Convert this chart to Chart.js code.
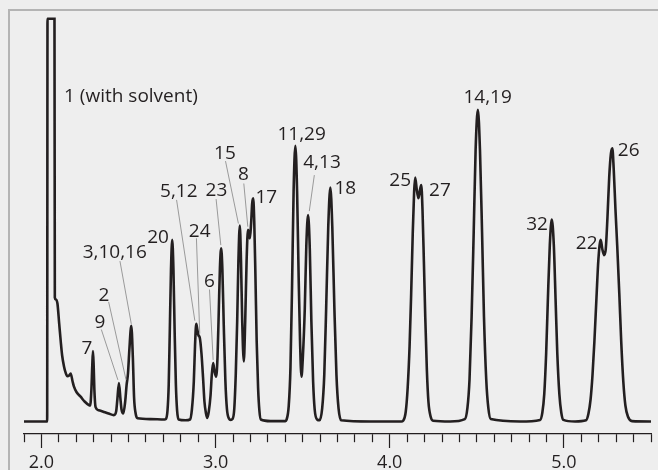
<!DOCTYPE html>
<html>
<head>
<meta charset="utf-8">
<title>Chromatogram</title>
<script src="https://cdn.jsdelivr.net/npm/chart.js@4.4.1/dist/chart.umd.min.js"></script>
<style>
  html, body { margin: 0; padding: 0; background: #eeeeee; }
  #wrap { width: 658px; height: 470px; }
</style>
</head>
<body>
<div id="wrap"><canvas id="chromChart" width="658" height="470"></canvas></div>
<script>
// Trace: retention time (min) and detector signal
const retentionTimes = [
    1.9, 2.033, 2.035, 2.075, 2.077, 2.082, 2.092, 2.102, 2.111, 2.119,
    2.130, 2.139, 2.149, 2.159, 2.168, 2.179, 2.187, 2.202, 2.225, 2.248,
    2.273, 2.280, 2.287, 2.292, 2.296, 2.300, 2.304, 2.311, 2.329, 2.359,
    2.386, 2.416, 2.429, 2.436, 2.445, 2.454, 2.460, 2.470, 2.481, 2.489,
    2.497, 2.505, 2.516, 2.525, 2.532, 2.541, 2.552, 2.627, 2.707, 2.714,
    2.724, 2.731, 2.737, 2.744, 2.751, 2.758, 2.765, 2.772, 2.779, 2.788,
    2.827, 2.853, 2.864, 2.875, 2.882, 2.889, 2.895, 2.902, 2.909, 2.919,
    2.928, 2.936, 2.945, 2.952, 2.961, 2.971, 2.978, 2.986, 2.994, 3.003,
    3.011, 3.018, 3.025, 3.032, 3.039, 3.047, 3.056, 3.065, 3.077, 3.087,
    3.097, 3.107, 3.116, 3.124, 3.131, 3.139, 3.146, 3.153, 3.162, 3.170,
    3.178, 3.186, 3.191, 3.197, 3.204, 3.210, 3.216, 3.222, 3.229, 3.236,
    3.244, 3.252, 3.260, 3.315, 3.401, 3.407, 3.420, 3.430, 3.439, 3.448,
    3.458, 3.468, 3.477, 3.485, 3.493, 3.501, 3.512, 3.521, 3.531, 3.541,
    3.550, 3.560, 3.569, 3.583, 3.597, 3.612, 3.624, 3.635, 3.647, 3.659,
    3.670, 3.682, 3.694, 3.706, 3.721, 3.888, 4.066, 4.077, 4.092, 4.103,
    4.114, 4.123, 4.132, 4.140, 4.146, 4.155, 4.165, 4.174, 4.181, 4.188,
    4.196, 4.204, 4.213, 4.222, 4.235, 4.249, 4.347, 4.431, 4.446, 4.458,
    4.470, 4.482, 4.493, 4.506, 4.518, 4.530, 4.541, 4.554, 4.566, 4.580,
    4.748, 4.863, 4.876, 4.887, 4.898, 4.908, 4.919, 4.930, 4.942, 4.952,
    4.962, 4.974, 4.985, 4.997, 5.064, 5.127, 5.141, 5.153, 5.164, 5.175,
    5.187, 5.198, 5.211, 5.221, 5.231, 5.240, 5.250, 5.260, 5.270, 5.278,
    5.286, 5.296, 5.306, 5.318, 5.329, 5.341, 5.353, 5.368, 5.391, 5.5
];
const detectorSignal = [
    0, 0, 100.7, 100.7, 31, 30.5, 29.5, 24.5, 20, 16.5,
    13.7, 12.2, 11.3, 11.5, 12, 10, 8.7, 7.3, 6.2, 5,
    4.1, 4.0, 8, 14, 17.6, 14, 8, 3.6, 2.8, 2.4,
    2.0, 1.6, 2.5, 5.5, 9.6, 5.5, 3, 2.0, 5, 9.1,
    12, 18, 23.9, 16, 6, 2, 0.8, 0.6, 0.5, 0.6,
    2.8, 9.3, 22.4, 38, 45.4, 38, 22.4, 9.3, 2.8, 0.5,
    0.3, 0.5, 3, 10, 19, 24.4, 23, 21.5, 21, 17,
    11, 5, 2, 0.9, 2.5, 6.5, 11.5, 14.6, 12.5, 11.2,
    16, 27, 38.5, 43.3, 38, 24, 10.5, 3.2, 0.7, 0.4,
    0.6, 3, 12, 25, 40, 49, 40, 25, 15, 25,
    40, 47.9, 47, 45.8, 49.5, 54.5, 55.8, 50, 36, 20,
    8.5, 2.5, 0.5, 0.1, 0.1, 0.4, 3.9, 13.6, 33.6, 57.5,
    68.9, 57.5, 36, 20, 11.2, 16, 28, 44, 51.6, 43,
    25, 10, 3, 0.5, 0.3, 3.3, 11.6, 28.5, 48.8, 58.5,
    48.8, 28.5, 11.6, 3.3, 0.3, 0, 0, 0.2, 2.5, 8.5,
    19, 32, 47, 57.5, 61, 58, 55.8, 58, 59.1, 53,
    40, 26, 13, 5, 1.2, 0.2, 0, 0.6, 3.4, 10.5,
    26.2, 47.3, 67.9, 77.9, 67.9, 47.3, 26.2, 10.5, 3.4, 0.6,
    0, 0.4, 2.2, 6.8, 17, 30.7, 44.1, 50.5, 44.1, 30.7,
    17, 6.8, 2.2, 0.4, 0, 0.3, 2, 5.5, 11.5, 20,
    31, 40.5, 45.4, 43, 41.6, 43, 51, 61, 67, 68.3,
    63, 53, 44, 32, 20, 10, 4, 1.2, 0.1, 0
];

// X axis: range, minor step and the labelled ticks
const axisMin = 1.9;
const axisMax = 5.5;
const tickStep = 0.1;
const majorTickLabels = ['2.0', '3.0', '4.0', '5.0'];

// Peak names
const peakNames = ['1 (with solvent)', '7', '9', '2', '3,10,16', '20', '5,12', '24', '6', '23',
    '15', '8', '17', '11,29', '4,13', '18', '25', '27', '14,19', '32', '22', '26'];

// Where each peak name sits (time, signal at text baseline) and its leader line if any
const labelPlacement = [
    { t: 2.130, v: 79.8, align: 'left' },
    { t: 2.261, v: 16.9 },
    { t: 2.336, v: 23.3, lead: [2.344, 23.0, 2.439, 10.4] },
    { t: 2.359, v: 30.1, lead: [2.386, 29.9, 2.486, 10.4] },
    { t: 2.421, v: 41.0, lead: [2.451, 40.1, 2.516, 24.4] },
    { t: 2.670, v: 44.7 },
    { t: 2.789, v: 56.2, lead: [2.776, 55.4, 2.881, 25.2] },
    { t: 2.909, v: 46.2, lead: [2.890, 45.8, 2.909, 22.0] },
    { t: 2.965, v: 33.7, lead: [2.965, 33.0, 2.986, 15.4] },
    { t: 3.005, v: 56.4, lead: [3.003, 55.6, 3.030, 44.1] },
    { t: 3.054, v: 65.6, lead: [3.057, 65.1, 3.131, 49.5] },
    { t: 3.160, v: 60.4, lead: [3.162, 59.5, 3.185, 48.7] },
    { t: 3.291, v: 54.7 },
    { t: 3.494, v: 70.4 },
    { t: 3.611, v: 63.5, lead: [3.567, 61.6, 3.538, 52.6] },
    { t: 3.745, v: 57.0 },
    { t: 4.060, v: 58.9 },
    { t: 4.288, v: 56.4 },
    { t: 4.562, v: 79.7 },
    { t: 4.846, v: 48.0 },
    { t: 5.131, v: 43.2 },
    { t: 5.372, v: 66.4 }
];

const inkColor = '#231f20';
const leaderColor = '#9a9a9a';
const fontFamily = "'Open Sans', sans-serif";

function isMajorTick(value) {
    return majorTickLabels.some(l => Math.abs(parseFloat(l) - value) < 1e-6);
}

// Background and the open grey frame (top and left only)
const framePlugin = {
    id: 'frame',
    beforeDraw(chart) {
        const ctx = chart.ctx;
        ctx.save();
        ctx.fillStyle = '#eeeeee';
        ctx.fillRect(0, 0, chart.width, chart.height);
        ctx.strokeStyle = '#b4b4b4';
        ctx.lineWidth = 2;
        ctx.beginPath();
        ctx.moveTo(9, chart.height);
        ctx.lineTo(9, 10);
        ctx.lineTo(chart.width, 10);
        ctx.stroke();
        ctx.restore();
    }
};

// Peak names and grey leader lines, placed through the chart scales
const peakLabelPlugin = {
    id: 'peakLabels',
    afterDatasetsDraw(chart) {
        const ctx = chart.ctx;
        const xs = chart.scales.x;
        const ys = chart.scales.y;
        ctx.save();
        ctx.strokeStyle = leaderColor;
        ctx.lineWidth = 1;
        labelPlacement.forEach(p => {
            if (!p.lead) return;
            ctx.beginPath();
            ctx.moveTo(xs.getPixelForValue(p.lead[0]), ys.getPixelForValue(p.lead[1]));
            ctx.lineTo(xs.getPixelForValue(p.lead[2]), ys.getPixelForValue(p.lead[3]));
            ctx.stroke();
        });
        ctx.fillStyle = inkColor;
        ctx.font = '19px ' + fontFamily;
        ctx.textBaseline = 'alphabetic';
        peakNames.forEach((name, i) => {
            const p = labelPlacement[i];
            ctx.textAlign = p.align || 'center';
            ctx.fillText(name, xs.getPixelForValue(p.t), ys.getPixelForValue(p.v));
        });
        ctx.restore();
    }
};

const ctx = document.getElementById('chromChart').getContext('2d');

new Chart(ctx, {
    type: 'line',
    data: {
        datasets: [{
            data: retentionTimes.map((t, i) => ({ x: t, y: detectorSignal[i] })),
            borderColor: inkColor,
            borderWidth: 2.6,
            pointRadius: 0,
            fill: false,
            cubicInterpolationMode: 'monotone',
            clip: false
        }]
    },
    options: {
        responsive: false,
        devicePixelRatio: 1,
        animation: false,
        layout: {
            padding: { left: 24, right: 7, top: 17.5, bottom: 0 }
        },
        plugins: {
            legend: { display: false },
            tooltip: { enabled: false }
        },
        scales: {
            x: {
                type: 'linear',
                position: 'bottom',
                min: axisMin,
                max: axisMax,
                afterFit: function(scale) {
                    scale.height = 36;
                },
                border: {
                    display: true,
                    color: inkColor,
                    width: 1.2
                },
                grid: {
                    drawOnChartArea: false,
                    drawTicks: true,
                    tickLength: 14,
                    tickColor: inkColor,
                    tickWidth: 1.2,
                    tickBorderDash: function(c) {
                        return isMajorTick(c.tick.value) ? [] : [8, 40];
                    }
                },
                ticks: {
                    stepSize: tickStep,
                    autoSkip: false,
                    maxRotation: 0,
                    padding: 4,
                    color: inkColor,
                    font: { family: fontFamily, size: 18 },
                    callback: function(value) {
                        const lbl = majorTickLabels.find(l => Math.abs(parseFloat(l) - value) < 1e-6);
                        return lbl || '';
                    }
                }
            },
            y: {
                display: false,
                min: -3.125,
                max: 101
            }
        }
    },
    plugins: [framePlugin, peakLabelPlugin]
});
</script>
</body>
</html>
